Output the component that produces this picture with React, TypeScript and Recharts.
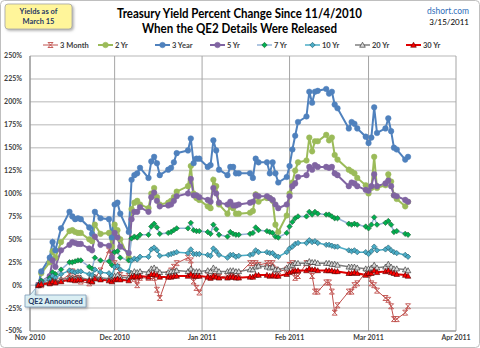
import React from 'react';
import { LineChart, Line, XAxis, YAxis, CartesianGrid } from 'recharts';

const dates = [
  '2010-11-04','2010-11-05','2010-11-08','2010-11-09','2010-11-10','2010-11-12','2010-11-15','2010-11-16','2010-11-17','2010-11-18','2010-11-19','2010-11-22','2010-11-23','2010-11-24','2010-11-26','2010-11-29','2010-11-30',
  '2010-12-01','2010-12-02','2010-12-03','2010-12-06','2010-12-07','2010-12-08','2010-12-09','2010-12-10','2010-12-13','2010-12-14','2010-12-15','2010-12-16','2010-12-17','2010-12-20','2010-12-21','2010-12-22','2010-12-23','2010-12-27','2010-12-28','2010-12-29','2010-12-30','2010-12-31',
  '2011-01-03','2011-01-04','2011-01-05','2011-01-06','2011-01-07','2011-01-10','2011-01-11','2011-01-12','2011-01-13','2011-01-14','2011-01-18','2011-01-19','2011-01-20','2011-01-21','2011-01-24','2011-01-25','2011-01-26','2011-01-27','2011-01-28','2011-01-31',
  '2011-02-01','2011-02-02','2011-02-03','2011-02-04','2011-02-07','2011-02-08','2011-02-09','2011-02-10','2011-02-11','2011-02-14','2011-02-15','2011-02-16','2011-02-17','2011-02-18','2011-02-22','2011-02-23','2011-02-24','2011-02-25','2011-02-28',
  '2011-03-01','2011-03-02','2011-03-03','2011-03-04','2011-03-07','2011-03-08','2011-03-09','2011-03-10','2011-03-11','2011-03-14','2011-03-15',
];

const m3 = [
  0, 0, 2, 5, 3, 5, 12, 15, 12, 8, 4, 2, 4, 8, 16, 38, 30,
  24, 20, 11, 10, 10, 7, 0, 8, 8, 10, 8, -5, -14, 12, 16, 20, 24, 30, 27, 4, -3, -8,
  11, 8, 10, 10, 9, 10, 10, 11, 10, 12, 24, 24, 24, 22, 24, 24, 24, 17, 15, 17,
  22, 24, 8, 10, 24, 20, 10, -7, -7, 3, 3, -7, -30, -22, -7, -7, 0, 2, 14,
  12, 2, 0, -6, -14, -16, -23, -37, -37, -30, -23,
];
const y2 = [
  0, 13, 25, 37, 30, 47, 59, 60, 58, 57, 57, 50, 48, 66, 56, 57, 42,
  66, 60, 50, 30, 83, 90, 92, 88, 84, 100, 106, 96, 88, 90, 92, 96, 102, 108, 130, 100, 95, 93,
  86, 84, 115, 108, 88, 78, 86, 84, 78, 78, 79, 81, 99, 91, 95, 95, 92, 66, 58, 76,
  100, 112, 125, 134, 136, 161, 146, 157, 157, 164, 158, 161, 142, 137, 126, 124, 122, 117, 109,
  100, 106, 140, 106, 109, 121, 113, 98, 94, 86, 91,
];
const y3 = [
  0, 15, 30, 47, 38, 62, 80, 75, 72, 73, 72, 63, 56, 80, 73, 72, 52,
  88, 90, 78, 58, 115, 120, 122, 128, 117, 135, 140, 133, 120, 126, 128, 134, 144, 147, 160, 133, 138, 138,
  129, 131, 158, 147, 126, 120, 129, 129, 122, 122, 122, 117, 138, 134, 134, 122, 134, 122, 112, 118,
  130, 148, 163, 178, 184, 211, 199, 211, 212, 214, 209, 211, 197, 193, 171, 178, 176, 171, 162,
  155, 161, 194, 166, 171, 182, 168, 150, 148, 137, 140,
];
const y5 = [
  0, 4, 10, 27, 20, 38, 44, 47, 46, 45, 45, 40, 38, 53, 44, 43, 30,
  57, 52, 42, 35, 72, 80, 80, 85, 80, 96, 101, 92, 86, 87, 88, 92, 97, 100, 116, 98, 98, 96,
  93, 91, 106, 100, 90, 88, 91, 87, 87, 88, 90, 91, 98, 97, 97, 95, 93, 88, 84, 88,
  97, 108, 111, 118, 120, 129, 126, 131, 129, 129, 128, 129, 122, 120, 108, 112, 111, 108, 104,
  103, 108, 121, 108, 111, 114, 108, 98, 97, 93, 91,
];
const y7 = [
  0, 5, 8, 14, 12, 17, 25, 25, 26, 27, 27, 20, 18, 30, 27, 26, 22,
  36, 37, 30, 27, 51, 53, 52, 55, 55, 64, 67, 63, 56, 57, 58, 60, 62, 62, 68, 60, 59, 59,
  58, 56, 66, 61, 55, 53, 58, 56, 55, 55, 56, 57, 63, 60, 59, 58, 57, 53, 52, 57,
  64, 69, 73, 75, 75, 80, 77, 80, 78, 77, 77, 75, 73, 73, 67, 66, 67, 66, 64,
  62, 66, 74, 66, 68, 70, 66, 58, 59, 56, 55,
];
const y10 = [
  0, 3, 6, 10, 8, 12, 16, 15, 14, 15, 15, 12, 11, 17, 14, 13, 10,
  20, 21, 17, 15, 27, 29, 28, 31, 31, 39, 41, 38, 32, 33, 34, 35, 36, 35, 39, 34, 34, 34,
  33, 32, 40, 37, 33, 30, 33, 33, 31, 32, 33, 34, 38, 36, 36, 35, 35, 32, 31, 36,
  40, 42, 45, 46, 46, 49, 47, 48, 46, 44, 44, 43, 42, 42, 38, 37, 38, 36, 36,
  34, 37, 42, 38, 39, 41, 38, 36, 35, 33, 31,
];
const y20 = [
  0, 2, 3, 5, 4, 6, 8, 8, 7, 8, 8, 6, 5, 9, 8, 7, 6,
  10, 11, 9, 8, 13, 15, 14, 15, 14, 18, 19, 17, 14, 14, 15, 15, 16, 15, 18, 15, 15, 15,
  16, 15, 19, 17, 15, 15, 16, 16, 15, 15, 17, 17, 20, 21, 20, 19, 20, 17, 17, 19,
  21, 22, 24, 24, 24, 26, 25, 25, 24, 24, 24, 23, 23, 22, 20, 20, 20, 19, 18,
  18, 19, 22, 19, 20, 23, 20, 18, 18, 17, 16,
];
const y30 = [
  0, 1, 2, 4, 3, 4, 6, 6, 5, 6, 6, 5, 4, 7, 6, 5, 4,
  6, 7, 6, 5, 9, 10, 9, 10, 9, 12, 12, 11, 9, 9, 9, 10, 10, 10, 12, 10, 10, 10,
  9, 8, 10, 9, 8, 8, 9, 9, 8, 8, 9, 9, 11, 11, 11, 10, 11, 10, 10, 12,
  14, 15, 16, 16, 16, 18, 17, 17, 16, 16, 16, 16, 15, 15, 13, 13, 14, 13, 11,
  13, 13, 16, 14, 15, 16, 14, 13, 12, 11, 10,
];

const monthTicks = ['2010-11-01', '2010-12-01', '2011-01-01', '2011-02-01', '2011-03-01', '2011-04-01'];
const monthLabels = ['Nov 2010', 'Dec 2010', 'Jan 2011', 'Feb 2011', 'Mar 2011', 'Apr 2011'];
const yTicks = [-50, -25, 0, 25, 50, 75, 100, 125, 150, 175, 200, 225, 250];

const toT = (s: string) => {
  const [y, m, d] = s.split('-').map(Number);
  return Date.UTC(y, m - 1, d);
};

const rows = dates.map((d, i) => ({
  t: toT(d),
  m3: m3[i], y2: y2[i], y3: y3[i], y5: y5[i], y7: y7[i], y10: y10[i], y20: y20[i], y30: y30[i],
}));
const xTicks = monthTicks.map(toT);
const labelFor = (v: number) => monthLabels[xTicks.indexOf(v)] ?? '';

type MarkerKind = 'x' | 'circle' | 'diamond' | 'triangle';
interface SeriesDef { key: string; name: string; line: string; width: number; marker: MarkerKind; fill: string; edge: string; size: number; }

const series: SeriesDef[] = [
  { key: 'm3', name: '3 Month', line: '#C0504D', width: 1, marker: 'x', fill: '#C0504D', edge: '#C0504D', size: 2.5 },
  { key: 'y2', name: '2 Yr', line: '#9BBB59', width: 2, marker: 'circle', fill: '#9BBB59', edge: '#9BBB59', size: 2.8 },
  { key: 'y3', name: '3 Year', line: '#4F81BD', width: 2, marker: 'circle', fill: '#4F81BD', edge: '#4F81BD', size: 2.8 },
  { key: 'y5', name: '5 Yr', line: '#8064A2', width: 2, marker: 'circle', fill: '#8064A2', edge: '#8064A2', size: 2.8 },
  { key: 'y7', name: '7 Yr', line: '#95B3D7', width: 1.5, marker: 'diamond', fill: '#00B050', edge: '#1E5E33', size: 2.7 },
  { key: 'y10', name: '10 Yr', line: '#4BACC6', width: 1.5, marker: 'diamond', fill: '#4BACC6', edge: '#215968', size: 2.7 },
  { key: 'y20', name: '20 Yr', line: '#7F7F7F', width: 1.5, marker: 'triangle', fill: '#D9D9D9', edge: '#262626', size: 2.8 },
  { key: 'y30', name: '30 Yr', line: '#E00000', width: 2, marker: 'triangle', fill: '#FF0000', edge: '#500000', size: 2.8 },
];

function markerShape(s: SeriesDef, cx: number, cy: number, k?: string) {
  const r = s.size;
  if (s.marker === 'circle') return <circle key={k} cx={cx} cy={cy} r={r} fill={s.fill} stroke={s.edge} strokeWidth={0.5} />;
  if (s.marker === 'diamond')
    return <path key={k} d={`M${cx},${cy - r}L${cx + r},${cy}L${cx},${cy + r}L${cx - r},${cy}Z`} fill={s.fill} stroke={s.edge} strokeWidth={0.6} />;
  if (s.marker === 'triangle')
    return <path key={k} d={`M${cx},${cy - r}L${cx + r},${cy + r * 0.8}L${cx - r},${cy + r * 0.8}Z`} fill={s.fill} stroke={s.edge} strokeWidth={0.6} />;
  return (
    <path key={k} d={`M${cx - r},${cy - r}L${cx + r},${cy + r}M${cx + r},${cy - r}L${cx - r},${cy + r}M${cx - r},${cy - r}L${cx + r},${cy - r}M${cx - r},${cy + r}L${cx + r},${cy + r}`}
      fill="none" stroke={s.edge} strokeWidth={0.9} />
  );
}

const legendX = [43, 98, 155, 210, 257, 305, 355, 406];
const FONT = 'Lato, "Open Sans", sans-serif';

export default function App() {
  return (
    <div style={{ position: 'fixed', left: 0, top: 0, width: 480, height: 348, background: '#fff', fontFamily: FONT }}>
      <LineChart width={480} height={348} data={rows} margin={{ top: 56, right: 24, bottom: 0, left: 0 }}>
        <CartesianGrid vertical={false} stroke="#CFCFCF" strokeWidth={1.5} />
        <CartesianGrid horizontal={false} stroke="#A5A5A5" strokeWidth={1} />
        <XAxis dataKey="t" type="number" domain={[xTicks[0], xTicks[xTicks.length - 1]]} ticks={xTicks}
          tickFormatter={labelFor} height={17} tickSize={0} tickMargin={4} interval={0}
          axisLine={{ stroke: '#8C8C8C' }} tickLine={false}
          tick={{ fontSize: 7, fontWeight: 700, fill: '#404040', fontFamily: FONT }} allowDataOverflow />
        <YAxis type="number" domain={[-50, 250]} ticks={yTicks} tickFormatter={(v: number) => `${v}%`}
          width={30} tickSize={0} tickMargin={8} interval={0}
          axisLine={{ stroke: '#8C8C8C' }} tickLine={false}
          tick={{ fontSize: 7, fontWeight: 700, fill: '#404040', fontFamily: FONT }} />
        {series.map((s) => (
          <Line key={s.key} type="linear" dataKey={s.key} name={s.name} stroke={s.line} strokeWidth={s.width}
            isAnimationActive={false}
            dot={(p: any) => markerShape(s, p.cx, p.cy, `${s.key}-${p.index}`)} activeDot={false} />
        ))}
      </LineChart>
      <svg width={480} height={348} style={{ position: 'absolute', left: 0, top: 0, pointerEvents: 'none' }}>
        <rect x={0.5} y={0.5} width={479} height={347} rx={4} fill="none" stroke="#BFBFBF" />
        <defs>
          <filter id="sh" x="-10%" y="-10%" width="130%" height="140%">
            <feDropShadow dx="1.5" dy="1.5" stdDeviation="1" floodColor="#808080" floodOpacity="0.6" />
          </filter>
        </defs>
        <rect x={5} y={4} width={67} height={25} rx={3} fill="#FFF59A" stroke="#A6A6A6" strokeWidth={0.8} filter="url(#sh)" />
        <text x={38.5} y={14} textAnchor="middle" fontSize={7.5} fontWeight={700} fill="#1F3864">Yields as of</text>
        <text x={38.5} y={24} textAnchor="middle" fontSize={7.5} fontWeight={700} fill="#1F3864">March 15</text>
        <text x={117} y={18} fontSize={12.5} fontWeight={700} fill="#000" textLength={245} lengthAdjust="spacingAndGlyphs">Treasury Yield Percent Change Since 11/4/2010</text>
        <text x={142} y={33} fontSize={12.5} fontWeight={700} fill="#000" textLength={195} lengthAdjust="spacingAndGlyphs">When the QE2 Details Were Released</text>
        <text x={469} y={14} textAnchor="end" fontSize={8.5} fill="#2F6EBA">dshort.com</text>
        <text x={469} y={25} textAnchor="end" fontSize={8} fill="#000">3/15/2011</text>
        {series.map((s, i) => (
          <g key={s.key}>
            <line x1={legendX[i]} x2={legendX[i] + 15} y1={45} y2={45} stroke={s.line} strokeWidth={s.width} />
            {markerShape(s, legendX[i] + 7.5, 45)}
            <text x={legendX[i] + 17} y={47.8} fontSize={7.5} fontWeight={700} fill="#404040">{s.name}</text>
          </g>
        ))}
        <path d="M25,295 L30,295 L36,288 L35,295 L86,295 L86,307 L25,307 Z" fill="#DAEEF3" stroke="#7F9DB9" strokeWidth={0.8} filter="url(#sh)" />
        <text x={55.5} y={304} textAnchor="middle" fontSize={7.5} fontWeight={700} fill="#1F3864">QE2 Announced</text>
      </svg>
    </div>
  );
}
